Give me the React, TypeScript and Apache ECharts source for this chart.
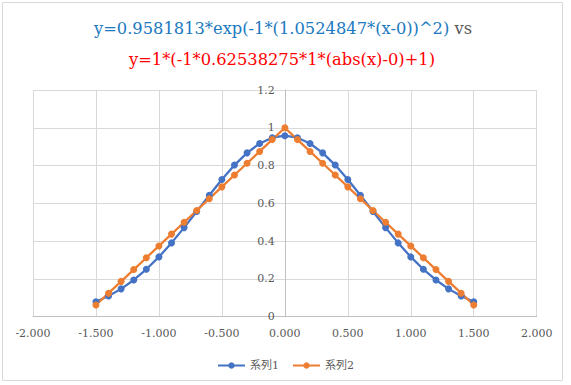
import React, { useEffect, useRef } from "react";
import * as echarts from "echarts";

const xValues = [
  -1.5, -1.4, -1.3, -1.2, -1.1, -1.0, -0.9, -0.8, -0.7, -0.6, -0.5, -0.4, -0.3, -0.2, -0.1, 0,
  0.1, 0.2, 0.3, 0.4, 0.5, 0.6, 0.7, 0.8, 0.9, 1.0, 1.1, 1.2, 1.3, 1.4, 1.5,
];
const series1Values = [
  0.0793, 0.1093, 0.1474, 0.1944, 0.2508, 0.3165, 0.3906, 0.4716, 0.5568, 0.6431, 0.7264,
  0.8026, 0.8673, 0.9167, 0.9476, 0.9582, 0.9476, 0.9167, 0.8673, 0.8026, 0.7264, 0.6431,
  0.5568, 0.4716, 0.3906, 0.3165, 0.2508, 0.1944, 0.1474, 0.1093, 0.0793,
];
const series2Values = [
  0.0619, 0.1245, 0.187, 0.2495, 0.3121, 0.3746, 0.4372, 0.4997, 0.5622, 0.6248, 0.6873,
  0.7498, 0.8124, 0.8749, 0.9375, 1.0, 0.9375, 0.8749, 0.8124, 0.7498, 0.6873, 0.6248,
  0.5622, 0.4997, 0.4372, 0.3746, 0.3121, 0.2495, 0.187, 0.1245, 0.0619,
];
const seriesNames = ["系列1", "系列2"];
const titleLine1 = "y=0.9581813*exp(-1*(1.0524847*(x-0))^2)";
const titleVs = " vs";
const titleLine2 = "y=1*(-1*0.62538275*1*(abs(x)-0)+1)";

const FONT = "'DejaVu Serif', 'Noto Sans CJK JP', serif";

const GRID_LEFT = 33;
const GRID_RIGHT = 34.3;
const CHART_W = 571;
const X_MIN = -2;
const X_MAX = 2;

export default function App() {
  const ref = useRef<HTMLDivElement>(null);
  useEffect(() => {
    if (!ref.current) return;
    const chart = echarts.init(ref.current, undefined, { renderer: "svg" });
    const pair = (ys: number[]) => xValues.map((x, i) => [x, ys[i]]);
    const plotW = CHART_W - GRID_LEFT - GRID_RIGHT;
    const yAxisOffset = -plotW * ((0 - X_MIN) / (X_MAX - X_MIN));
    chart.setOption({
      animation: false,
      backgroundColor: "#ffffff",
      textStyle: { fontFamily: FONT },
      graphic: [
        {
          type: "rect",
          shape: { x: 2.5, y: 2.5, width: 560, height: 378 },
          style: { fill: "none", stroke: "#D9D9D9", lineWidth: 1 },
          silent: true,
        },
        {
          type: "text",
          x: 283,
          y: 28,
          style: {
            text: "{a|" + titleLine1 + "}{b|" + titleVs + "}",
            align: "center",
            verticalAlign: "middle",
            rich: {
              a: { fill: "#2079C0", fontSize: 16.3, fontFamily: FONT },
              b: { fill: "#595959", fontSize: 16.3, fontFamily: FONT },
            },
          },
        },
        {
          type: "text",
          x: 282,
          y: 59,
          style: {
            text: titleLine2,
            align: "center",
            verticalAlign: "middle",
            fill: "#FF0000",
            fontSize: 16.3,
            fontFamily: FONT,
          },
        },
      ],
      legend: {
        data: seriesNames,
        left: "center",
        top: 355,
        itemWidth: 27,
        itemHeight: 8,
        itemGap: 13,
        textStyle: { color: "#595959", fontSize: 11, fontFamily: FONT },
      },
      grid: { left: GRID_LEFT, right: GRID_RIGHT, top: 90, bottom: 68.3, containLabel: false },
      xAxis: {
        type: "value",
        min: X_MIN,
        max: X_MAX,
        interval: 0.5,
        axisLine: { onZero: false, lineStyle: { color: "#BFBFBF", width: 1 } },
        axisTick: { show: false },
        axisLabel: {
          color: "#595959",
          fontSize: 11,
          fontFamily: FONT,
          margin: 11,
          formatter: (v: number) => v.toFixed(3),
        },
        splitLine: { show: true, lineStyle: { color: "#D9D9D9", width: 1 } },
      },
      yAxis: {
        type: "value",
        min: 0,
        max: 1.2,
        interval: 0.2,
        position: "left",
        offset: yAxisOffset,
        axisLine: { show: true, onZero: false, lineStyle: { color: "#BFBFBF", width: 1 } },
        axisTick: { show: false },
        axisLabel: {
          color: "#595959",
          fontSize: 11,
          fontFamily: FONT,
          margin: 10,
          formatter: (v: number) => String(Math.round(v * 10) / 10),
        },
        splitLine: { show: true, lineStyle: { color: "#D9D9D9", width: 1 } },
      },
      series: [
        {
          name: seriesNames[0],
          type: "line",
          data: pair(series1Values),
          symbol: "circle",
          symbolSize: 7,
          showAllSymbol: true,
          color: "#4472C4",
          lineStyle: { width: 2.25, color: "#4472C4" },
          itemStyle: { color: "#4472C4" },
        },
        {
          name: seriesNames[1],
          type: "line",
          data: pair(series2Values),
          symbol: "circle",
          symbolSize: 7,
          showAllSymbol: true,
          color: "#ED7D31",
          lineStyle: { width: 2.25, color: "#ED7D31" },
          itemStyle: { color: "#ED7D31" },
        },
      ],
    });
    return () => chart.dispose();
  }, []);
  return (
    <div
      ref={ref}
      style={{ position: "fixed", left: 0, top: 0, width: 571, height: 385, background: "#fff" }}
    />
  );
}
